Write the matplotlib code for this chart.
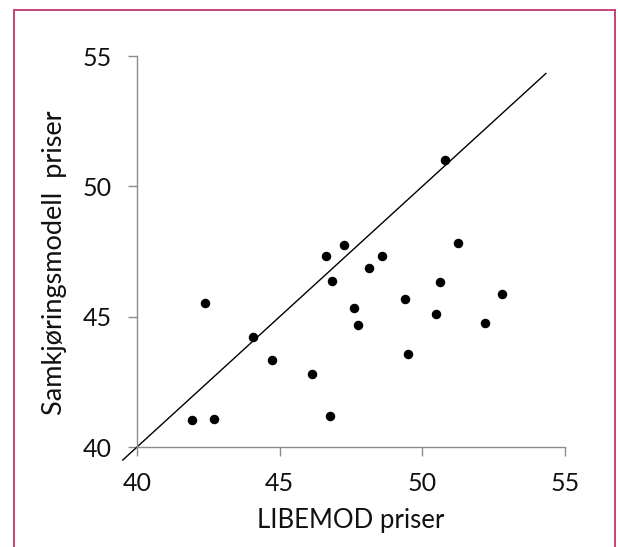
import matplotlib
matplotlib.use("Agg")
import matplotlib.pyplot as plt
from matplotlib.lines import Line2D

# LIBEMOD (x) vs Samkjøringsmodell (y) priser
libemod = [42.38, 44.08, 44.73, 46.15, 41.91, 42.69, 46.78, 46.61, 47.25, 46.82,
           48.12, 48.59, 47.59, 47.75, 50.79, 51.25, 50.62, 49.38, 50.47, 52.81,
           52.21, 49.51]
samkjoring = [45.53, 44.23, 43.34, 42.81, 41.04, 41.09, 41.19, 47.34, 47.75, 46.38,
              46.86, 47.32, 45.35, 44.68, 51.00, 47.83, 46.34, 45.69, 45.12, 45.87,
              44.75, 43.56]
diag = [39.5, 54.33]
ticks = [40, 45, 50, 55]

plt.rcParams["font.family"] = ["Lato", "DejaVu Sans"]

fig = plt.figure(figsize=(6.18, 5.47), dpi=100)
ax = fig.add_axes([0.2217, 0.1828, 0.6925, 0.7148])

ax.plot(diag, diag, color="black", linewidth=1.0, clip_on=False)
ax.scatter(libemod, samkjoring, s=34, color="black", zorder=3, clip_on=False)

ax.set_xlim(40, 55)
ax.set_ylim(40, 55)
ax.set_xticks(ticks)
ax.set_yticks(ticks)

for side in ["top", "right"]:
    ax.spines[side].set_visible(False)
for side in ["left", "bottom"]:
    ax.spines[side].set_color("#8c8c8c")
    ax.spines[side].set_linewidth(1.0)

ax.tick_params(direction="out", length=6.3, width=1.0, color="#8c8c8c",
               labelsize=18, labelcolor="#111111", pad=12)

ax.set_xlabel("LIBEMOD priser", fontsize=18.5, color="#111111")
ax.xaxis.set_label_coords(0.5, -0.155)
ax.set_ylabel("Samkjøringsmodell  priser", fontsize=19.5, color="#111111")
ax.yaxis.set_label_coords(-0.163, 0.47)

# rosa ramme rundt figuren (ingen bunnkant)
frame_color = "#c8417a"
left, right, top = 14 / 618, 615 / 618, 1 - 10 / 547
fig.add_artist(Line2D([left, left], [0, top], color=frame_color, linewidth=1.4))
fig.add_artist(Line2D([left, right], [top, top], color=frame_color, linewidth=1.4))
fig.add_artist(Line2D([right, right], [0, top], color=frame_color, linewidth=1.4))

fig.savefig("out.png", dpi=100)
